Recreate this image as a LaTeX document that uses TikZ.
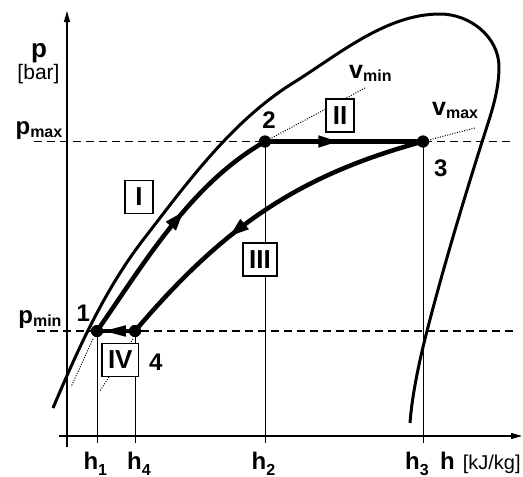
\documentclass[tikz,border=0pt]{standalone}
\usepackage{fontspec}
\setmainfont{Liberation Sans}
\usetikzlibrary{arrows.meta,decorations.markings}

\newcommand\lbf{\fontsize{24}{24}\selectfont\bfseries}
\newcommand\sbf{\fontsize{16}{16}\selectfont\bfseries}
\newcommand\rmsub[1]{\raisebox{-3pt}{\sbf #1}}
\newcommand\dsub[1]{\raisebox{-6pt}{\sbf #1}}

\begin{document}
\begin{tikzpicture}[x=1pt,y=-1pt,
  lab/.style={inner sep=0pt,font=\lbf},
  vlab/.style={inner sep=0pt,font=\fontsize{25}{25}\selectfont\bfseries},
  dot/.style={circle,fill=black,minimum size=12pt,inner sep=0pt},
  roman/.style={draw,line width=1.7pt,fill=white,inner xsep=6pt,inner ysep=0pt,minimum width=28pt,minimum height=33pt,font=\fontsize{26}{26}\selectfont\bfseries},
  sat/.style={line width=3pt,line join=round},
  proc/.style={line width=4.5pt,line join=round},
  thinl/.style={line width=0.9pt},
  axisl/.style={line width=1.3pt,-{Triangle[length=11pt,width=6pt]}},
  dline/.style={line width=1.2pt,dash pattern=on 8pt off 5pt},
  dots/.style={line width=1pt,dash pattern=on 1pt off 1.5pt},
  midarrow/.style 2 args={postaction={decorate,decoration={markings,mark=at position #1 with {\arrow{#2}}}}},
]
\useasboundingbox (0,0) rectangle (523,477);

% state points
\node[dot] (p1) at (97,331) {};
\node[dot] (p4) at (135,331) {};
\node[dot] (p2) at (265,141.5) {};
\node[dot] (p3) at (423,141.5) {};

% axis helper coordinates
\coordinate (yb) at (67,447);
\coordinate (yt) at (67,11);
\coordinate (xl) at (59,436);
\coordinate (xr) at (522,436);
\coordinate (tick) at (0,443);

% dashed pressure lines
\coordinate (pmaxL) at (34,141.5);
\coordinate (pmaxR) at (510,141.5);
\coordinate (pminL) at (37,331);
\coordinate (pminR) at (513,331);
\draw[dline] (pmaxL) -- (pmaxR);
\draw[dline] (pminL) -- (pminR);

% thin vertical lines
\draw[thinl] (p1.center) -- (p1.center |- tick);
\draw[thinl] (p4.center) -- (p4.center |- tick);
\draw[thinl] (p2.center) -- (p2.center |- tick);
\draw[thinl] (p3.center) -- (p3.center |- tick);

% dotted isochores
\coordinate (vminE) at (365,88);
\coordinate (vmaxE) at (475,128);
\coordinate (d1a) at (93,339);
\coordinate (d1b) at (71,387);
\coordinate (d4a) at (133,339);
\coordinate (d4b) at (100,391);
\draw[dots] (p2.center) -- (vminE);
\draw[dots] (p3.center) -- (vmaxE);
\draw[dots] (d1a) -- (d1b);
\draw[dots] (d4a) -- (d4b);

% axes
\draw[axisl] (yb) -- (yt);
\draw[axisl] (xl) -- (xr);

% saturation curve
\draw[sat] (53,408) .. controls (77.6,350) and (104.6,289.8) .. (143,240)
  .. controls (186.9,183.1) and (231.8,121.2) .. (293,83)
  .. controls (338.9,54.4) and (386,14) .. (440,14)
  .. controls (470,14) and (499,37) .. (499,67)
  .. controls (499,93) and (489.8,117.3) .. (482,142)
  .. controls (462.2,204.7) and (443.5,267) .. (427,331)
  .. controls (419.5,360) and (412,395) .. (410,423);

% process curves
\draw[proc,midarrow={0.58}{Triangle[length=20pt,width=12pt]}] (p1.center) .. controls (145.5,261.3) and (191,184) .. (p2.center);
\draw[proc,midarrow={0.47}{Triangle[length=21pt,width=11pt]}] (p2.center) -- (p3.center);
\draw[proc,midarrow={0.62}{Triangle[length=20pt,width=12pt]}] (p3.center) .. controls (300,175) and (225,225) .. (p4.center);
\draw[proc,midarrow={0.87}{Triangle[length=24pt,width=10pt]}] (p4.center) -- (p1.center);

% dots on top
\fill (p1) circle (6pt);
\fill (p4) circle (6pt);
\fill (p2) circle (6pt);
\fill (p3) circle (6pt);

% roman numeral boxes
\node[roman] (r1) at (139,197) {I};
\node[roman] (r2) at (340,115.5) {II};
\node[roman] (r3) at (260,259.7) {III};
\node[roman] (r4) at (120.3,360) {IV};

% axis labels
\node[inner sep=0pt,anchor=base,font=\fontsize{26}{26}\selectfont\bfseries] (plab) at (39,57.5) {p};
\node[inner sep=0pt,anchor=base,font=\fontsize{21}{21}\selectfont] (bar) at (38.5,79.5) {[bar]};
\node[lab,anchor=base east] (pmax) at (62.5,134) {p\rmsub{max}};
\node[lab,anchor=base east] (pmin) at (61.7,323) {p\rmsub{min}};

% point labels
\node[lab,anchor=base] (n1) at (83.3,321.7) {1};
\node[lab,anchor=base] (n4) at (155.7,370.7) {4};
\node[lab,anchor=base] (n2) at (269,128.3) {2};
\node[lab,anchor=base] (n3) at (440.7,176.7) {3};

% volume labels
\node[vlab,anchor=base west] (vmin) at (349,78.3) {v\rmsub{min}};
\node[vlab,anchor=base west] (vmax) at (432,115) {v\rmsub{max}};

% enthalpy labels
\node[lab,anchor=base] (h1) at (95.3,469) {h\dsub{1}};
\node[lab,anchor=base] (h4) at (139,469) {h\dsub{4}};
\node[lab,anchor=base] (h2) at (263.5,469) {h\dsub{2}};
\node[lab,anchor=base] (h3) at (417,469) {h\dsub{3}};
\node[lab,anchor=base west] (hax) at (440,469) {h\hspace{8pt}{\fontsize{20}{20}\selectfont\mdseries [kJ/kg]}};
\end{tikzpicture}
\end{document}
